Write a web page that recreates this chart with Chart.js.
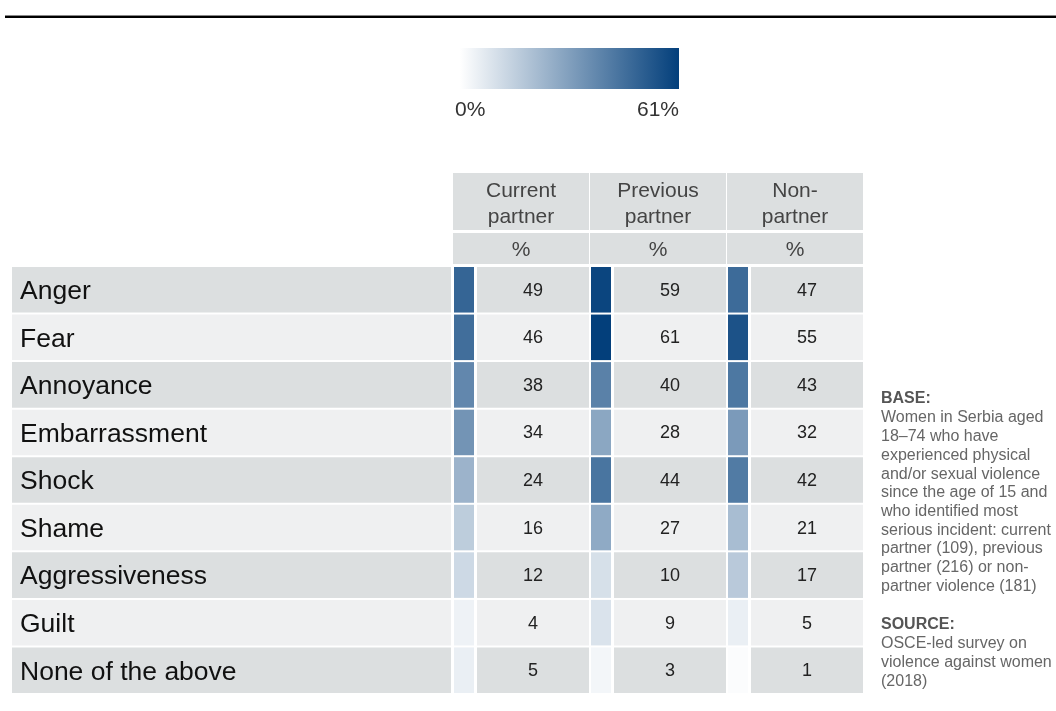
<!DOCTYPE html>
<html>
<head>
<meta charset="utf-8">
<script src="https://cdn.jsdelivr.net/npm/chart.js@4.4.1/dist/chart.umd.min.js"></script>
<style>
  html, body { margin: 0; padding: 0; background: #fff; }
  canvas { display: block; }
</style>
</head>
<body>
<canvas id="chart" width="1056" height="711"></canvas>
<script>
// ── data ─────────────────────────────────────────────
const categories = ["Anger", "Fear", "Annoyance", "Embarrassment", "Shock", "Shame", "Aggressiveness", "Guilt", "None of the above"];
const currentPartner  = [49, 46, 38, 34, 24, 16, 12, 4, 5];
const previousPartner = [59, 61, 40, 28, 44, 27, 10, 9, 3];
const nonPartner      = [47, 55, 43, 32, 42, 21, 17, 5, 1];
const columnTitles = [["Current", "partner"], ["Previous", "partner"], ["Non-", "partner"]];
const unitLabel = "%";
const scaleMin = 0, scaleMax = 61;
const scaleLabels = ["0%", "61%"];
const baseNote = ["Women in Serbia aged", "18–74 who have", "experienced physical", "and/or sexual violence",
  "since the age of 15 and", "who identified most", "serious incident: current", "partner (109), previous",
  "partner (216) or non-", "partner violence (181)"];
const sourceNote = ["OSCE-led survey on", "violence against women", "(2018)"];

// ── layout / style ───────────────────────────────────
const FONT = "'Liberation Sans', Arial, Helvetica, sans-serif";
const ROW_DARK = "#dcdfe0", ROW_LIGHT = "#eff0f1";
const LOW = [255, 255, 255], HIGH = [3, 63, 123];
const LABEL_X0 = 12, LABEL_X1 = 451;
const COL_X0 = [454, 591, 728];   // left edge of each column group
const SQ_W = 20, CELL_GAP = 3, CELL_W = 112;
const NOTE_X = 881, NOTE_LH = 18.7;

function heat(v) {
  const t = Math.max(0, Math.min(1, (v - scaleMin) / (scaleMax - scaleMin)));
  const c = LOW.map((l, i) => Math.round(l + (HIGH[i] - l) * t));
  return `rgb(${c[0]},${c[1]},${c[2]})`;
}
const rowBg = categories.map((_, i) => i % 2 === 0 ? ROW_DARK : ROW_LIGHT);

const series = [currentPartner, previousPartner, nonPartner];
const datasets = [{
  label: "labels",
  data: categories.map(() => [LABEL_X0, LABEL_X1]),
  backgroundColor: rowBg
}];
series.forEach((vals, c) => {
  const x0 = COL_X0[c];
  datasets.push({
    label: "square" + c,
    data: vals.map(() => [x0, x0 + SQ_W]),
    backgroundColor: vals.map(heat)
  });
  datasets.push({
    label: "cell" + c,
    values: vals,
    data: vals.map(() => [x0 + SQ_W + CELL_GAP, x0 + SQ_W + CELL_GAP + CELL_W]),
    backgroundColor: rowBg
  });
});

// ── plugin: headers, texts, legend, notes ────────────
const tablePlugin = {
  id: "tablePlugin",
  beforeDatasetsDraw(chart) {
    const ctx = chart.ctx;
    const x = chart.scales.x;
    const top = chart.chartArea.top;
    ctx.save();
    // rule at top
    ctx.fillStyle = "#888";
    ctx.fillRect(5, 15, 1051, 1);
    ctx.fillStyle = "#000";
    ctx.fillRect(5, 16, 1051, 2);
    // header cells
    COL_X0.forEach((x0, c) => {
      const l = x.getPixelForValue(x0 - 1), r = x.getPixelForValue(x0 + SQ_W + CELL_GAP + CELL_W);
      ctx.fillStyle = ROW_DARK;
      ctx.fillRect(l, top - 93, r - l, 57);
      ctx.fillRect(l, top - 33, r - l, 31);
      ctx.fillStyle = "#444";
      ctx.font = "21px " + FONT;
      ctx.textAlign = "center";
      ctx.textBaseline = "middle";
      const cx = (l + r) / 2;
      ctx.fillText(columnTitles[c][0], cx, top - 75);
      ctx.fillText(columnTitles[c][1], cx, top - 49);
      ctx.fillText(unitLabel, cx, top - 16);
    });
    // colour legend
    const g = ctx.createLinearGradient(460, 0, 679, 0);
    g.addColorStop(0, heat(scaleMin));
    g.addColorStop(1, heat(scaleMax));
    ctx.fillStyle = g;
    ctx.fillRect(460, 48, 219, 41);
    ctx.fillStyle = "#333";
    ctx.font = "21px " + FONT;
    ctx.textBaseline = "middle";
    ctx.textAlign = "left";
    ctx.fillText(scaleLabels[0], 455, 110);
    ctx.textAlign = "right";
    ctx.fillText(scaleLabels[1], 679, 110);
    // notes
    ctx.textAlign = "left";
    ctx.fillStyle = "#555";
    ctx.font = "bold 16px " + FONT;
    ctx.fillText("BASE:", NOTE_X, 399);
    ctx.fillText("SOURCE:", NOTE_X, 625);
    ctx.fillStyle = "#666";
    ctx.font = "16px " + FONT;
    baseNote.forEach((t, i) => ctx.fillText(t, NOTE_X, 418 + i * NOTE_LH));
    sourceNote.forEach((t, i) => ctx.fillText(t, NOTE_X, 644 + i * NOTE_LH));
    ctx.restore();
  },
  afterDatasetsDraw(chart) {
    const ctx = chart.ctx;
    const y = chart.scales.y;
    ctx.save();
    ctx.textBaseline = "middle";
    ctx.fillStyle = "#111";
    ctx.font = "26.5px " + FONT;
    ctx.textAlign = "left";
    categories.forEach((c, i) => ctx.fillText(c, 20, y.getPixelForValue(i) + 2));
    ctx.font = "18px " + FONT;
    ctx.textAlign = "center";
    ctx.fillStyle = "#222";
    chart.data.datasets.forEach((ds, di) => {
      if (!ds.values) return;
      chart.getDatasetMeta(di).data.forEach((bar, i) => {
        const cx = (bar.x + bar.base) / 2;
        ctx.fillText(String(ds.values[i]), cx, bar.y + 1);
      });
    });
    ctx.restore();
  }
};

new Chart(document.getElementById("chart"), {
  type: "bar",
  data: { labels: categories, datasets },
  options: {
    indexAxis: "y",
    responsive: false,
    animation: false,
    layout: { padding: { top: 266, bottom: 17, left: 0, right: 0 } },
    datasets: { bar: { grouped: false, categoryPercentage: 1, barPercentage: 0.958, borderWidth: 0, borderSkipped: false } },
    plugins: { legend: { display: false }, tooltip: { enabled: false } },
    scales: {
      x: { type: "linear", min: 0, max: 1056, display: false },
      y: { type: "category", display: false }
    }
  },
  plugins: [tablePlugin]
});
</script>
</body>
</html>
